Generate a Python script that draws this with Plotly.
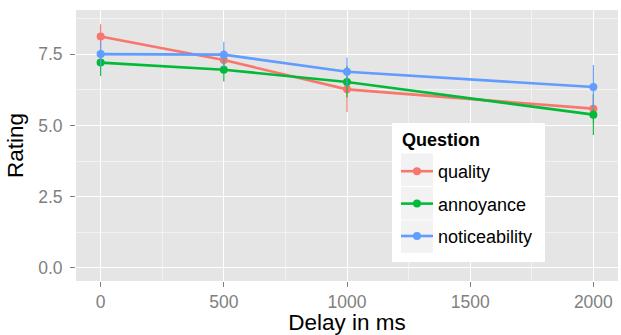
import plotly.graph_objects as go

delays = [0, 500, 1000, 2000]
series_names = ["quality", "annoyance", "noticeability"]
quality = [8.13, 7.30, 6.27, 5.59]
quality_err = [0.43, 0.35, 0.80, 0.50]
annoyance = [7.21, 6.96, 6.53, 5.38]
annoyance_err = [0.47, 0.41, 0.55, 0.72]
noticeability = [7.51, 7.49, 6.89, 6.35]
noticeability_err = [0.45, 0.45, 0.50, 0.78]
colors = ["#F8766D", "#00BA38", "#619CFF"]
x_ticks = [0, 500, 1000, 1500, 2000]
y_ticks = [0.0, 2.5, 5.0, 7.5]
y_ticklabels = ["0.0", "2.5", "5.0", "7.5"]
legend_title = "Question"

values = [quality, annoyance, noticeability]
errors = [quality_err, annoyance_err, noticeability_err]

fig = go.Figure()
for name, v, e, c in zip(series_names, values, errors, colors):
    fig.add_trace(go.Scatter(
        x=delays, y=v, name=name, mode="lines+markers",
        line=dict(color=c, width=2.6),
        marker=dict(color=c, size=8),
        error_y=dict(type="data", array=e, visible=True, color=c, thickness=1.1, width=0),
        legendgroup=name,
    ))

# plot area in pixels: x 76..618, y 10..281
L, R, T, B = 76, 618, 10, 281
def px(x):
    return (x - L) / (R - L)
def py(y):
    return 1 - (y - T) / (B - T)

shapes = [dict(type="rect", xref="paper", yref="paper",
               x0=px(392), x1=px(545), y0=py(262), y1=py(123),
               fillcolor="white", line=dict(width=0), layer="above")]
for y0, y1 in [(153.5, 186), (187, 219.5), (220.5, 253)]:
    shapes.append(dict(type="rect", xref="paper", yref="paper",
                       x0=px(401), x1=px(433), y0=py(y1), y1=py(y0),
                       fillcolor="#F2F2F2", line=dict(width=0), layer="above"))

font = "Liberation Sans, Arial, sans-serif"
fig.update_layout(
    width=621, height=335,
    margin=dict(l=L, r=621 - R, t=T, b=335 - B),
    paper_bgcolor="white",
    plot_bgcolor="#E5E5E5",
    font=dict(family=font, color="black"),
    showlegend=True,
    shapes=shapes,
    annotations=[dict(text="<b>" + legend_title + "</b>", xref="paper", yref="paper",
                      x=px(400), y=py(140), xanchor="left", yanchor="middle",
                      showarrow=False, font=dict(size=18, family=font, color="black"))],
    legend=dict(
        x=px(396), y=py(153), xanchor="left", yanchor="top",
        bgcolor="rgba(0,0,0,0)", borderwidth=0,
        font=dict(size=18, family=font),
        tracegroupgap=6,
        itemwidth=32,
    ),
    xaxis=dict(
        range=[-100, 2100], tickvals=x_ticks, ticktext=[str(t) for t in x_ticks],
        showgrid=True, gridcolor="white", gridwidth=1.4, zeroline=False,
        ticks="outside", ticklen=5, tickcolor="#7F7F7F", tickwidth=1,
        tickfont=dict(size=17.5, color="#7F7F7F"),
        minor=dict(dtick=250, tick0=0, showgrid=True, gridcolor="#F2F2F2", gridwidth=1),
        title=dict(text="Delay in ms", font=dict(size=22.5, color="black"), standoff=3),
        automargin=False,
    ),
    yaxis=dict(
        range=[-0.47, 9.06], tickvals=y_ticks, ticktext=y_ticklabels,
        showgrid=True, gridcolor="white", gridwidth=1.4, zeroline=False,
        ticks="outside", ticklen=5, tickcolor="#7F7F7F", tickwidth=1,
        tickfont=dict(size=17.5, color="#7F7F7F"),
        ticklabelstandoff=4,
        minor=dict(dtick=1.25, tick0=0, showgrid=True, gridcolor="#F2F2F2", gridwidth=1),
        title=dict(text="Rating", font=dict(size=22.5, color="black"), standoff=8),
        automargin=False,
    ),
)
fig.write_html("out.html", config={"displayModeBar": False},
               post_script="document.body.style.margin='0';")
